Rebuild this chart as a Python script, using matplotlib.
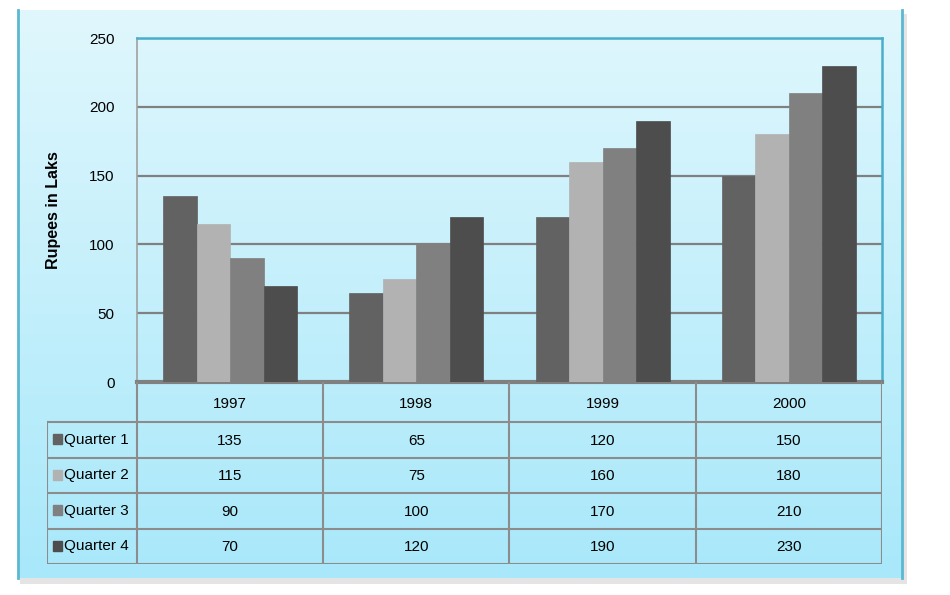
import matplotlib
matplotlib.use("Agg")
import matplotlib.pyplot as plt
from matplotlib.patches import Rectangle
from matplotlib.colors import LinearSegmentedColormap
import numpy as np

years = ["1997", "1998", "1999", "2000"]
series = ["Quarter 1", "Quarter 2", "Quarter 3", "Quarter 4"]
q1 = [135, 65, 120, 150]
q2 = [115, 75, 160, 180]
q3 = [90, 100, 170, 210]
q4 = [70, 120, 190, 230]
values = [q1, q2, q3, q4]
colors = ["#626262", "#b2b2b2", "#808080", "#4d4d4d"]

plt.rcParams['font.family'] = ['Liberation Sans', 'DejaVu Sans']

W, H = 950, 595
fig = plt.figure(figsize=(9.5, 5.95), dpi=100)
fig.patch.set_facecolor("white")

def box(x0, y0, x1, y1):
    # pixel box (top-left origin) -> figure fraction rect
    return [x0 / W, 1 - y1 / H, (x1 - x0) / W, (y1 - y0) / H]

# soft shadow of the panel
sh = fig.add_axes(box(20, 14, 907, 584), zorder=0)
sh.axis("off")
sh.add_patch(Rectangle((0, 0), 1, 1, color="#e4e4e4", transform=sh.transAxes))

# panel with vertical gradient
bg = fig.add_axes(box(18, 10, 902, 578), zorder=1)
grad = np.linspace(0, 1, 256).reshape(-1, 1)
cmap = LinearSegmentedColormap.from_list("bg", ["#e0f7fd", "#a8e8fa"])
bg.imshow(grad, aspect="auto", cmap=cmap, extent=[0, 1, 0, 1], origin="upper")
bg.set_xlim(0, 1)
bg.set_ylim(0, 1)
bg.set_xticks([])
bg.set_yticks([])
for s in ["top", "bottom"]:
    bg.spines[s].set_visible(False)
for s in ["left", "right"]:
    bg.spines[s].set_color("#5bb8d0")
    bg.spines[s].set_linewidth(2)

# bar chart
ax = fig.add_axes(box(137, 38, 882, 382), zorder=2)
ax.patch.set_alpha(0)
x = np.arange(len(years)) + 0.5
bw = 0.18
for i, (vals, c) in enumerate(zip(values, colors)):
    ax.bar(x + (i - 1.5) * bw, vals, bw, color=c, edgecolor=c, linewidth=0.5, zorder=3)
ax.set_xlim(0, len(years))
ax.set_ylim(0, 250)
ax.set_yticks(np.arange(0, 251, 50))
ax.yaxis.grid(True, color="#808080", linewidth=1.6, zorder=1)
ax.set_axisbelow(True)
ax.set_xticks([])
ax.tick_params(axis="y", length=0, pad=16, labelsize=11)
ax.spines["left"].set_color("#a0a0a0")
ax.spines["left"].set_linewidth(1.2)
ax.spines["bottom"].set_color("#808080")
ax.spines["bottom"].set_linewidth(3)
ax.spines["top"].set_color("#4aaecb")
ax.spines["top"].set_linewidth(1.8)
ax.spines["right"].set_color("#4aaecb")
ax.spines["right"].set_linewidth(1.8)
ax.set_ylabel("Rupees in Laks", fontsize=11.5, fontweight="bold", labelpad=20)

# data table under the chart
tb = fig.add_axes(box(47, 382, 882, 564), zorder=2)
tb.patch.set_alpha(0)
lab_w = 90 / ((882 - 137) / len(years))
tb.set_xlim(-lab_w, len(years))
row_edges = np.array([0, 40, 75.5, 111, 146.5, 182])
tb.set_ylim(182, 0)
tb.axis("off")
lc = "#8c8c8c"
lw = 1.5
tb.plot([0, 0], [0, 182], color=lc, lw=lw)
for k in range(1, len(years) + 1):
    tb.plot([k, k], [0, 182], color=lc, lw=lw)
for r in row_edges[1:]:
    tb.plot([-lab_w, len(years)], [r, r], color=lc, lw=lw)
tb.plot([-lab_w, -lab_w], [row_edges[1], 182], color=lc, lw=lw)
for k, yr in enumerate(years):
    tb.text(k + 0.5, (row_edges[0] + row_edges[1]) / 2 + 2, yr, ha="center", va="center", fontsize=11)
for i, (name, vals, c) in enumerate(zip(series, values, colors)):
    yc = (row_edges[i + 1] + row_edges[i + 2]) / 2
    tb.add_patch(Rectangle((-lab_w + 0.03, yc - 5.5), 0.05, 10, color=c))
    tb.text(-lab_w + 0.09, yc, name, ha="left", va="center", fontsize=11)
    for k, v in enumerate(vals):
        tb.text(k + 0.5, yc + 1, str(v), ha="center", va="center", fontsize=11)

fig.savefig("out.png", dpi=100)
